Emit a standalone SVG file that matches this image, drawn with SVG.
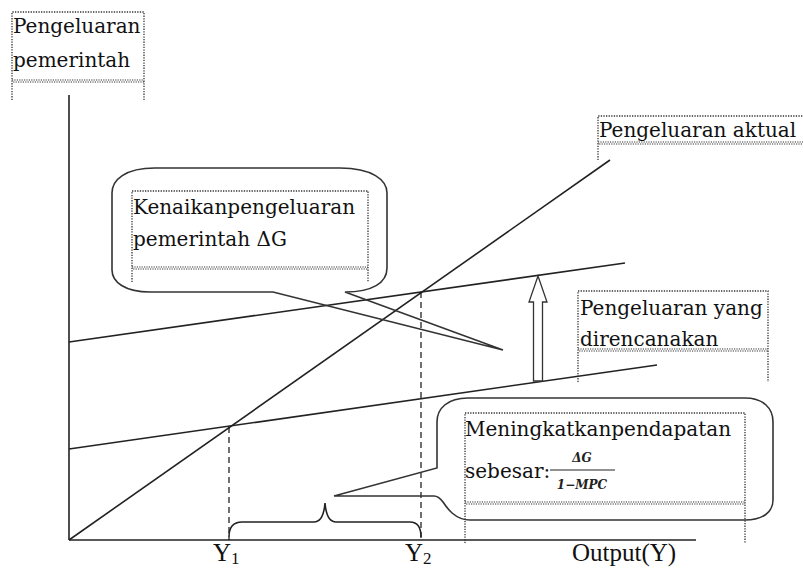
<svg xmlns="http://www.w3.org/2000/svg" width="803" height="570" viewBox="0 0 803 570">
<style>
.t{font-family:"DejaVu Serif","Liberation Serif",serif;font-size:20px;fill:#111}
.ax{font-family:"Liberation Serif",serif;font-size:25px;fill:#111}
.fr{font-family:"DejaVu Serif",serif;font-size:12px;font-style:italic;font-weight:bold;fill:#222}
.ln{stroke:#222;stroke-width:1.6;fill:none}
.dash{stroke:#111;stroke-width:1.2;stroke-dasharray:6 4;fill:none}
.dot{stroke:#333;stroke-width:1.3;stroke-dasharray:1.3 1.3;fill:none}
.wv{stroke:#333;stroke-width:1.2;stroke-dasharray:1.2 1.2;fill:none}
.call{stroke:#333;stroke-width:1.6;fill:none}
</style>
<rect width="803" height="570" fill="#fff"/>
<g id="axes">
<line class="ln" x1="69" y1="95" x2="69" y2="540"/>
<line class="ln" x1="69" y1="540" x2="696" y2="540"/>
</g>
<g id="connectors">
<line class="ln" x1="69" y1="540" x2="610" y2="160"/>
<line class="ln" x1="69" y1="342" x2="625" y2="263"/>
<line class="ln" x1="69" y1="449" x2="657" y2="365"/>
<line class="dash" x1="229" y1="427" x2="229" y2="540"/>
<line class="dash" x1="421" y1="292" x2="421" y2="540"/>
<path class="ln" d="M229,537 C229,527 233,522 242,522 L314,522 C321,522 324,515 325,503 C326,515 329,522 336,522 L410,522 C417,522 421,527 421,537"/>
<polygon points="533.5,381 533.5,302 529,302 538,276 547,302 542.5,302 542.5,381" fill="#fff" stroke="#333" stroke-width="1.3"/>
</g>
<g id="label-pemerintah">
<path class="dot" d="M12,100 V12 H144 V100"/>
<line class="wv" x1="12" y1="80" x2="144" y2="80"/>
<line class="wv" x1="13.2" y1="82" x2="144" y2="82"/>
<text class="t" x="13" y="33">Pengeluaran</text>
<text class="t" x="13" y="67">pemerintah</text>
</g>
<g id="callout-kenaikan">
<path class="call" d="M345,292 L503,350 L273,292 L150,292 C125,292 112,282 112,270 L112,193 C112,180 125,168 155,168 L340,168 C372,168 387,180 387,193 L387,268 C387,283 372,292 345,292 Z"/>
<path class="dot" d="M132,282 V191 H368 V282"/>
<line class="wv" x1="132" y1="267" x2="368" y2="267"/>
<line class="wv" x1="133.2" y1="269" x2="368" y2="269"/>
<text class="t" x="133" y="214">Kenaikanpengeluaran</text>
<text class="t" x="133" y="246">pemerintah ΔG</text>
</g>
<g id="label-aktual">
<path class="dot" d="M598,160 V116 H803"/>
<line class="wv" x1="598" y1="142" x2="803" y2="142"/>
<line class="wv" x1="599.2" y1="144" x2="803" y2="144"/>
<text class="t" x="599" y="137">Pengeluaran aktual</text>
</g>
<g id="label-direncanakan">
<path class="dot" d="M578,382 V291 H768 V382"/>
<line class="wv" x1="578" y1="349" x2="768" y2="349"/>
<line class="wv" x1="579.2" y1="351" x2="768" y2="351"/>
<text class="t" x="580" y="315">Pengeluaran yang</text>
<text class="t" x="580" y="346">direncanakan</text>
</g>
<g id="callout-pendapatan">
<path class="call" d="M437,468 L437,422 C437,408 448,398 468,398 L745,398 C763,398 773,408 773,422 L773,500 C773,512 763,520 745,520 L470,520 C455,520 447,508 443,502 C440,498 437,496 434,496 L334,496 Z"/>
<path class="dot" d="M465,543 V413 H745 V543"/>
<line class="wv" x1="465" y1="502" x2="745" y2="502"/>
<line class="wv" x1="466.2" y1="504" x2="745" y2="504"/>
<text class="t" x="465" y="436">Meningkatkanpendapatan</text>
<text class="t" x="465" y="478">sebesar:</text>
<text class="fr" x="582" y="462" text-anchor="middle">ΔG</text>
<line x1="550" y1="470" x2="615" y2="470" stroke="#222" stroke-width="1"/>
<text class="fr" x="582" y="489" text-anchor="middle">1−MPC</text>
</g>
<g id="axis-labels">
<text class="ax" x="213" y="561">Y<tspan font-size="17" dy="3">1</tspan></text>
<text class="ax" x="405" y="561">Y<tspan font-size="17" dy="3">2</tspan></text>
<text class="ax" x="572" y="561">Output(Y)</text>
</g>
</svg>
